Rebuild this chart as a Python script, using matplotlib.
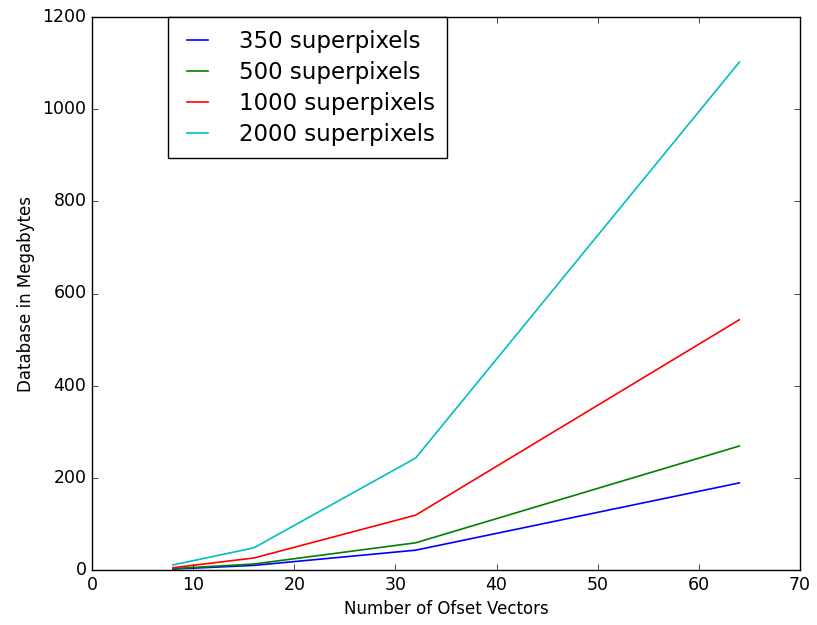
import matplotlib

matplotlib.use("Agg")

import matplotlib.pyplot as plt

plt.style.use("classic")

offset_vectors = [8, 16, 32, 64]
sp_350 = [2, 10, 43, 189]
sp_500 = [3, 13, 59, 269]
sp_1000 = [5, 26, 119, 543]
sp_2000 = [11, 48, 243, 1102]

series = [
    ("350 superpixels", sp_350, "b"),
    ("500 superpixels", sp_500, "g"),
    ("1000 superpixels", sp_1000, "r"),
    ("2000 superpixels", sp_2000, "c"),
]

fig = plt.figure(figsize=(8.17, 6.25), dpi=100, facecolor="white")
ax = fig.add_axes([0.1126, 0.088, 0.8666, 0.8848])
for label, values, color in series:
    ax.plot(offset_vectors, values, color=color, linewidth=1.2, label=label)

ax.set_xlim(0, 70)
ax.set_ylim(0, 1200)
ax.set_xlabel("Number of Ofset Vectors", fontsize=12)
ax.set_ylabel("Database in Megabytes", fontsize=12)
ax.tick_params(labelsize=12.5)
ax.legend(loc="upper left", bbox_to_anchor=(0.107, 1.0), borderaxespad=0.0,
          fontsize=16.5, frameon=True, fancybox=False, handlelength=1.5,
          handletextpad=1.05, borderpad=0.55, labelspacing=0.35)

fig.savefig("out.png", dpi=100, facecolor="white")
